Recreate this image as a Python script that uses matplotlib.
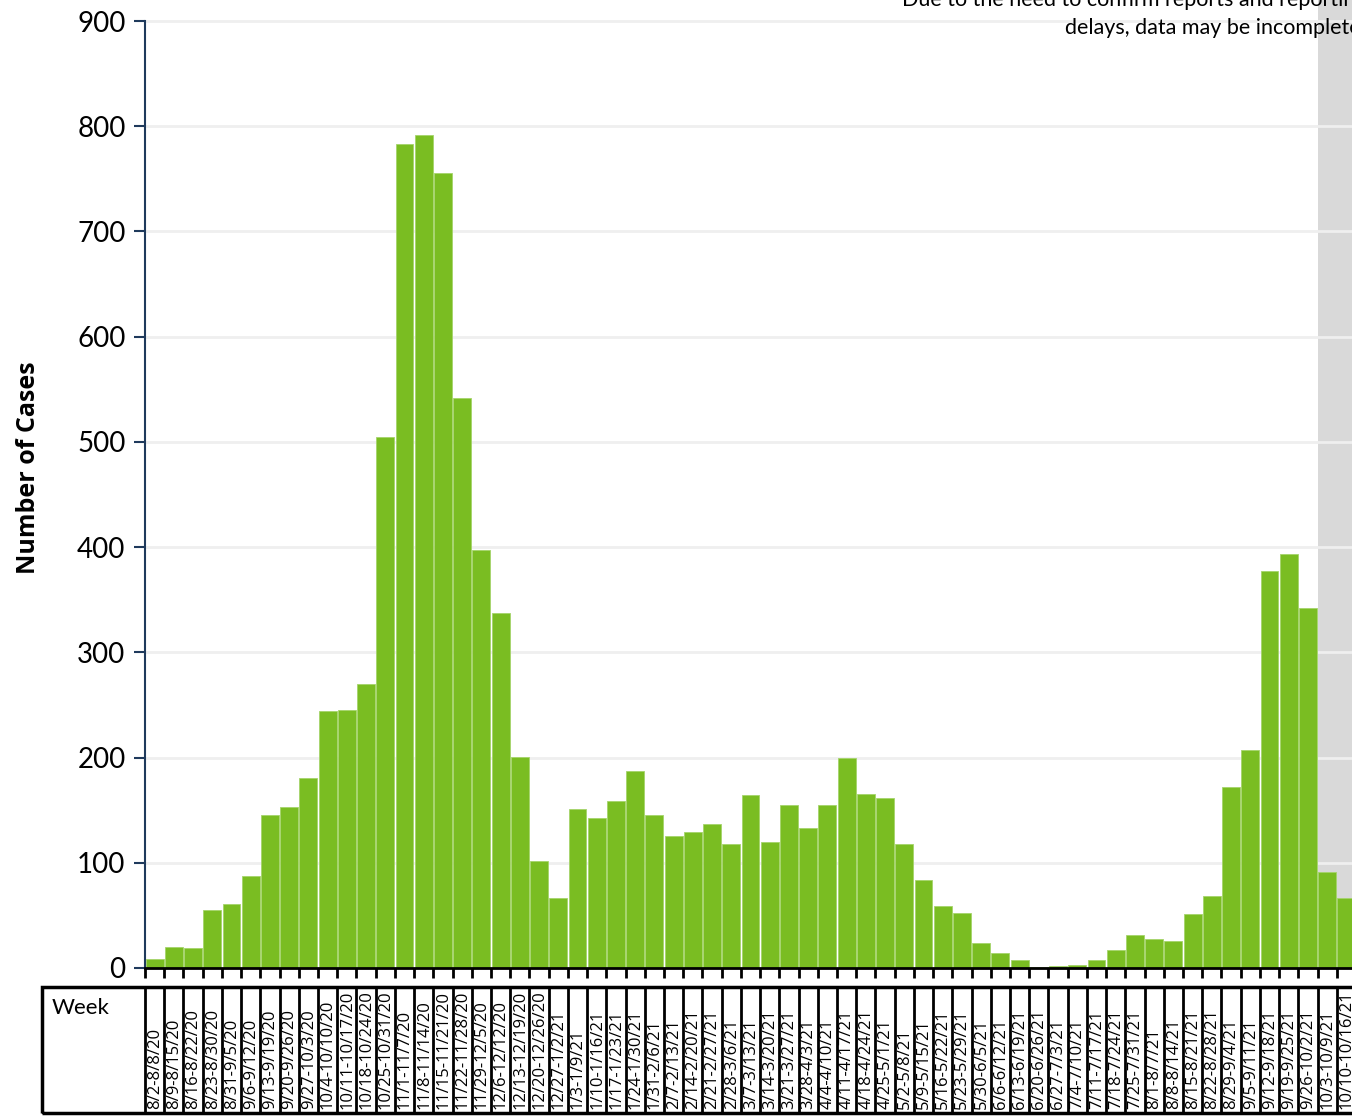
import numpy as np
import matplotlib.pyplot as plt
from matplotlib.patches import Rectangle

weeks = [
    "8/2-8/8/20", "8/9-8/15/20", "8/16-8/22/20", "8/23-8/30/20", "8/31-9/5/20",
    "9/6-9/12/20", "9/13-9/19/20", "9/20-9/26/20", "9/27-10/3/20", "10/4-10/10/20",
    "10/11-10/17/20", "10/18-10/24/20", "10/25-10/31/20", "11/1-11/7/20", "11/8-11/14/20",
    "11/15-11/21/20", "11/22-11/28/20", "11/29-12/5/20", "12/6-12/12/20", "12/13-12/19/20",
    "12/20-12/26/20", "12/27-1/2/21", "1/3-1/9/21", "1/10-1/16/21", "1/17-1/23/21",
    "1/24-1/30/21", "1/31-2/6/21", "2/7-2/13/21", "2/14-2/20/21", "2/21-2/27/21",
    "2/28-3/6/21", "3/7-3/13/21", "3/14-3/20/21", "3/21-3/27/21", "3/28-4/3/21",
    "4/4-4/10/21", "4/11-4/17/21", "4/18-4/24/21", "4/25-5/1/21", "5/2-5/8/21",
    "5/9-5/15/21", "5/16-5/22/21", "5/23-5/29/21", "5/30-6/5/21", "6/6-6/12/21",
    "6/13-6/19/21", "6/20-6/26/21", "6/27-7/3/21", "7/4-7/10/21", "7/11-7/17/21",
    "7/18-7/24/21", "7/25-7/31/21", "8/1-8/7/21", "8/8-8/14/21", "8/15-8/21/21",
    "8/22-8/28/21", "8/29-9/4/21", "9/5-9/11/21", "9/12-9/18/21", "9/19-9/25/21",
    "9/26-10/2/21", "10/3-10/9/21", "10/10-10/16/21",
]

cases = [
    9, 20, 19, 55, 61, 87, 145, 153, 181, 244,
    245, 270, 505, 783, 792, 756, 542, 397, 337, 201,
    102, 67, 151, 143, 159, 187, 145, 125, 129, 137,
    118, 164, 120, 155, 133, 155, 200, 165, 162, 118,
    84, 59, 52, 24, 14, 8, 1, 2, 3, 8,
    17, 31, 28, 26, 51, 68, 172, 207, 377, 393,
    342, 91, 67,
]

# weeks with possibly incomplete data (shaded)
n_incomplete = 2

y_ticks = [0, 100, 200, 300, 400, 500, 600, 700, 800, 900]

BAR_COLOR = "#7abd22"
SHADE = "#d9d9d9"
GRID = "#efefef"
AXIS_BLUE = "#1f3a5c"

plt.rcParams['font.family'] = ['Lato', 'DejaVu Sans']

W, H, DPI = 1352, 1118, 100
fig = plt.figure(figsize=(W / DPI, H / DPI), dpi=DPI)

n = len(weeks)
x = np.arange(n)

# plot area in pixels (right edge runs off the figure like the original)
left_px, right_px = 145, 1356
zero_px, top_px = 968, 0
px_per_cat = (right_px - left_px) / n
y_top = 900 * (zero_px - top_px) / (zero_px - 21)

ax = fig.add_axes([left_px / W, (H - zero_px) / H,
                   (right_px - left_px) / W, (zero_px - top_px) / H])
ax.set_xlim(-0.5, n - 0.5)
ax.set_ylim(0, y_top)

ax.axvspan(n - n_incomplete - 0.5, n - 0.5, color=SHADE, zorder=0, lw=0)
for yt in y_ticks[1:]:
    ax.axhline(yt, color=GRID, lw=2, zorder=0.5)
ax.bar(x, cases, width=0.93, color=BAR_COLOR, edgecolor="#a5d46a", linewidth=0.6, zorder=2)

for s in ["top", "right"]:
    ax.spines[s].set_visible(False)
ax.spines["left"].set_color(AXIS_BLUE)
ax.spines["left"].set_linewidth(1.5)
ax.spines["left"].set_bounds(0, 900)
ax.spines["bottom"].set_color("black")
ax.spines["bottom"].set_linewidth(2)

ax.set_yticks(y_ticks)
ax.set_yticklabels([str(v) for v in y_ticks], fontsize=20)
ax.tick_params(axis="y", direction="out", length=8, width=1.5, color=AXIS_BLUE, pad=6)
ax.set_xticks(np.arange(n + 1) - 0.5)
ax.set_xticklabels([])
ax.tick_params(axis="x", direction="out", length=7, width=2, color="black")
ax.set_ylabel("Number of Cases", fontsize=18, fontweight="bold",
              family=["Open Sans", "DejaVu Sans"])
ax.yaxis.set_label_coords(-0.086, 0.517)

fig.text(1366 / W, 1 - 14 / H,
         "Due to the need to confirm reports and reporting\ndelays, data may be incomplete.",
         ha="right", va="center", fontsize=15.5, linespacing=1.45)

# week table below the axis
tab_left_px, tab_top_px, tab_bot_px = 42, 987, 1113
tax = fig.add_axes([tab_left_px / W, (H - tab_bot_px) / H,
                    (right_px - tab_left_px) / W, (tab_bot_px - tab_top_px) / H])
tax.set_xlim(-0.5 - (left_px - tab_left_px) / px_per_cat, n - 0.5)
tax.set_ylim(0, 1)
tax.axis("off")
tax.add_patch(Rectangle((tax.get_xlim()[0], 0), n + (left_px - tab_left_px) / px_per_cat, 1,
                        fill=False, edgecolor="black", lw=2.5, clip_on=False))
tax.vlines(np.arange(n + 1) - 0.5, 0, 1, color="black", lw=2)
tax.text(tax.get_xlim()[0] + 0.5, 0.83, "Week", fontsize=16, ha="left", va="center")
for i, lab in enumerate(weeks):
    tax.text(i + 0.02, 0.035, lab, rotation=90, ha="center", va="bottom",
             fontsize=12, family=["Open Sans", "DejaVu Sans"])

fig.savefig("out.png", dpi=DPI)
